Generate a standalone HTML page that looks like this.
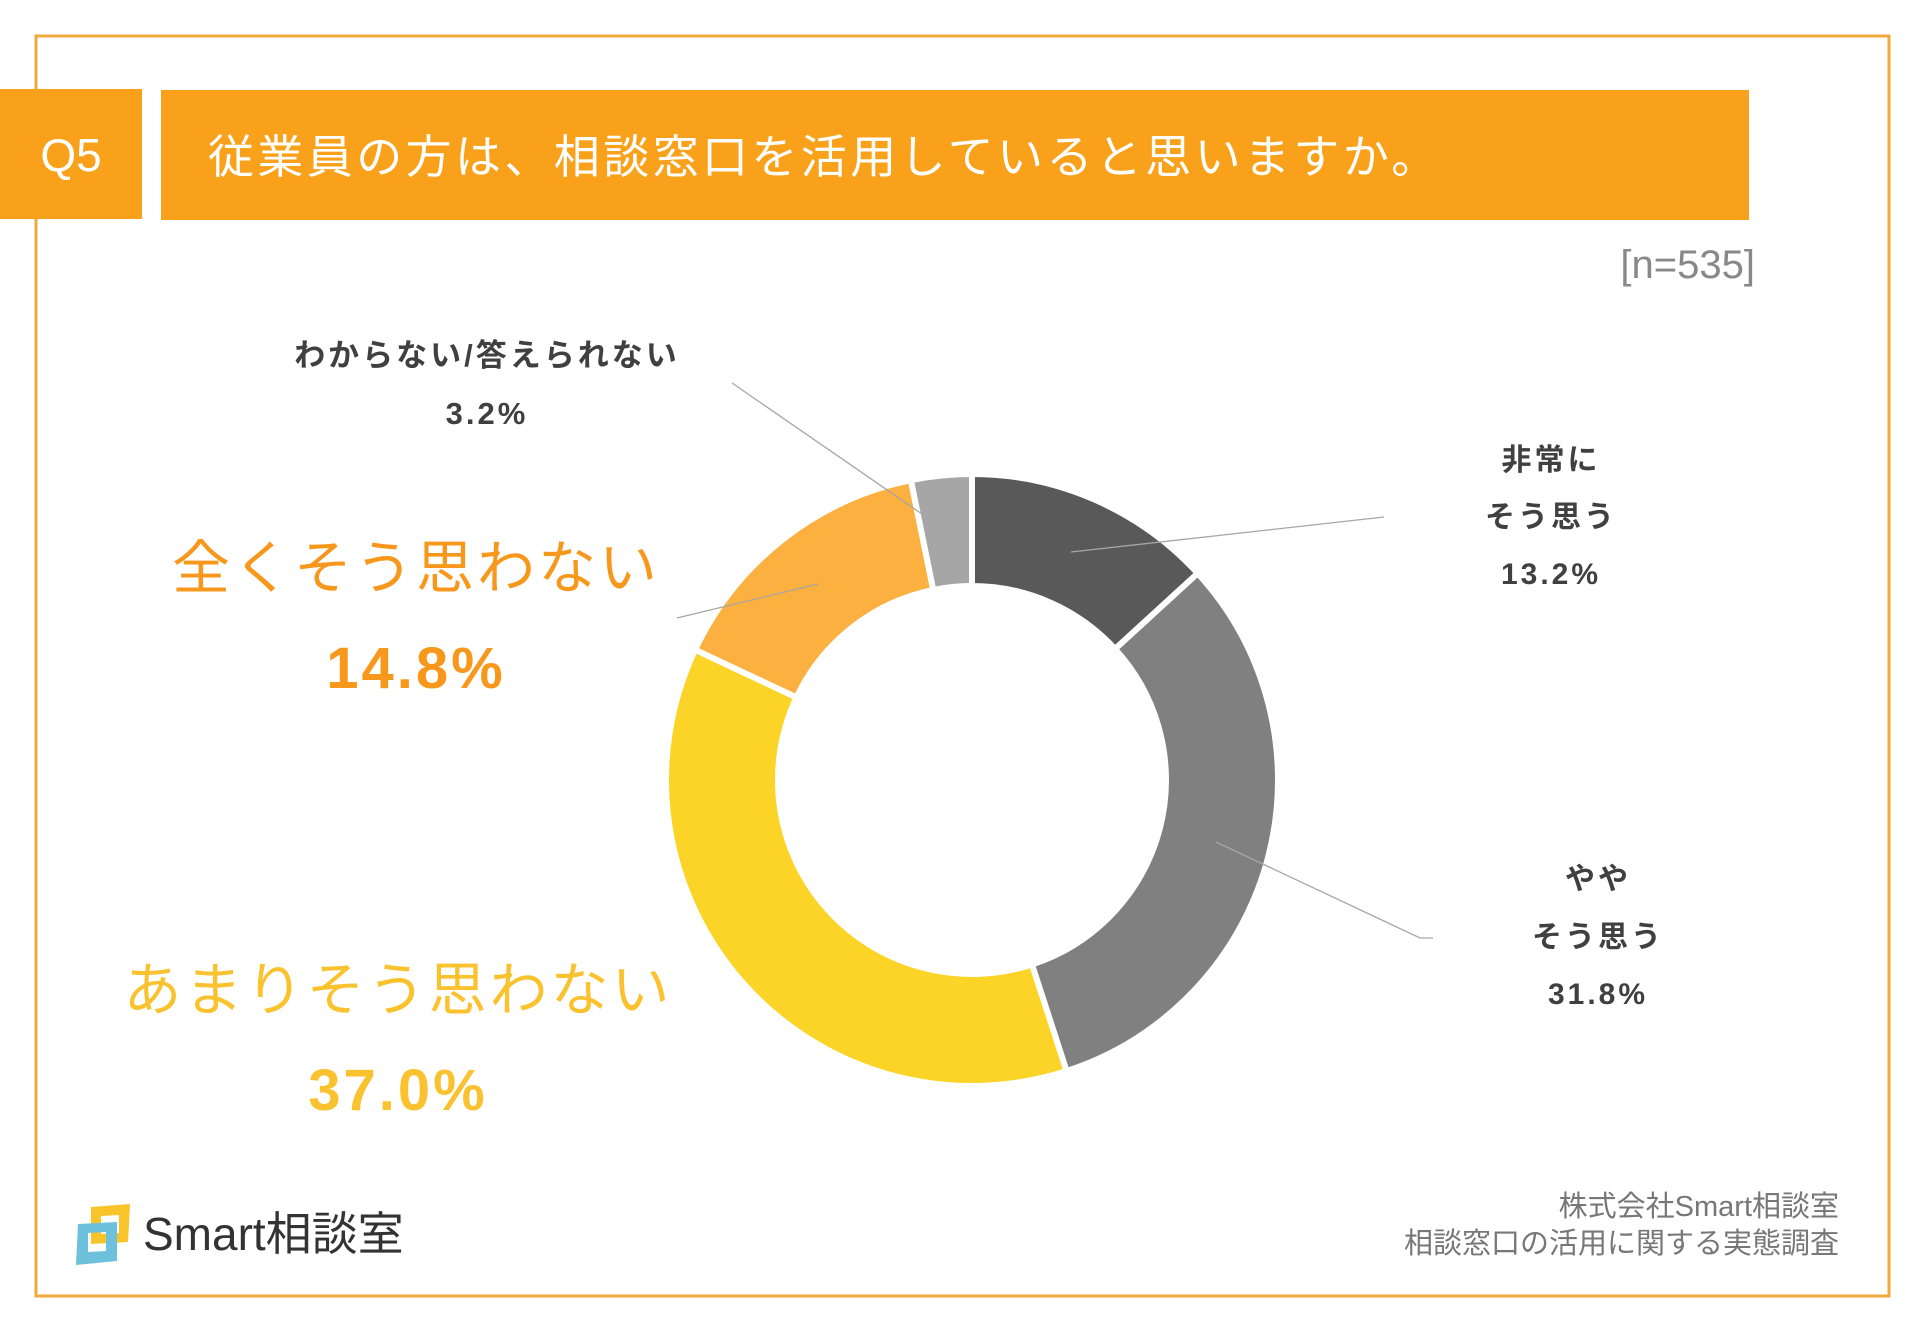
<!DOCTYPE html>
<html><head><meta charset="utf-8">
<style>
html,body{margin:0;padding:0;background:#fff;}
body{width:1920px;height:1329px;overflow:hidden;font-family:"Liberation Sans","Noto Sans CJK JP",sans-serif;}
svg text{font-family:"Liberation Sans","Noto Sans CJK JP",sans-serif;}
</style></head>
<body>
<svg id="chart" width="1920" height="1329" viewBox="0 0 1920 1329">
  <rect x="36" y="36" width="1853" height="1260" fill="none" stroke="#F2A93B" stroke-width="3"/>
  <rect x="0" y="89" width="142" height="130" fill="#F9A11B"/>
  <text x="71" y="171" text-anchor="middle" font-size="46" fill="#fff">Q5</text>
  <rect x="161" y="90" width="1588" height="130" fill="#F9A11B"/>
  <text x="208" y="173" font-size="46" letter-spacing="3.4" fill="#fff">従業員の方は、相談窓口を活用していると思いますか。</text>
  <text x="1755" y="278" text-anchor="end" font-size="40" fill="#888">[n=535]</text>
  <g id="slices"></g>
  <g id="leaders" stroke="#A6A6A6" stroke-width="1.3" fill="none">
    <polyline points="732,383 922,514"/>
    <polyline points="1384,517 1071,552"/>
    <polyline points="1216,842 1420,938 1433,938"/>
    <polyline points="677,618 818,584"/>
  </g>
  <g id="labels"></g>
  <text x="1839" y="1216" text-anchor="end" font-size="29" fill="#777">株式会社Smart相談室</text>
  <text x="1839" y="1253" text-anchor="end" font-size="29" fill="#777">相談窓口の活用に関する実態調査</text>
  <g>
    <path d="M91 1207 L130 1204 L128 1242 L91 1244 Z M101 1216 L101 1234 L119 1233 L119 1215 Z" fill="#F8C42A" fill-rule="evenodd"/>
    <path d="M78 1224 L117 1222 L117 1261 L76 1265 Z M88 1233 L88 1252 L106 1251 L106 1232 Z" fill="#6EC1DD" fill-rule="evenodd"/>
    <text x="143" y="1250" font-size="46" fill="#333">Smart相談室</text>
  </g>
</svg>
<script>
const categories = ["非常にそう思う","ややそう思う","あまりそう思わない","全くそう思わない","わからない/答えられない"];
const values = [13.2, 31.8, 37.0, 14.8, 3.2];
const valueLabels = ["13.2%","31.8%","37.0%","14.8%","3.2%"];
const colors = ["#595959","#808080","#FCD427","#FBB040","#A6A6A6"];
const cx = 972, cy = 780, R = 306, r = 194;
const NS = "http://www.w3.org/2000/svg";
const total = values.reduce((a,b)=>a+b,0);
function angle(v){ return v/total*2*Math.PI - Math.PI/2; }
function pt(a, rad){ return [cx + rad*Math.cos(a), cy + rad*Math.sin(a)]; }
const g = document.getElementById('slices');
let cum = 0;
values.forEach((v,i)=>{
  const a0 = angle(cum), a1 = angle(cum+v); cum += v;
  const large = (a1-a0) > Math.PI ? 1 : 0;
  const p0=pt(a0,R), p1=pt(a1,R), q1=pt(a1,r), q0=pt(a0,r);
  const p = document.createElementNS(NS,'path');
  p.setAttribute('d',`M${p0[0]} ${p0[1]} A${R} ${R} 0 ${large} 1 ${p1[0]} ${p1[1]} L${q1[0]} ${q1[1]} A${r} ${r} 0 ${large} 0 ${q0[0]} ${q0[1]} Z`);
  p.setAttribute('fill',colors[i]);
  p.setAttribute('stroke','#fff');
  p.setAttribute('stroke-width','6');
  
  
  g.appendChild(p);
});
const labelSpecs = [
  {lines:["非常に","そう思う",valueLabels[0]], x:1551, ys:[470,527,584], size:30, ls:3, color:"#404040", w:["bold","bold","bold"]},
  {lines:["やや","そう思う",valueLabels[1]], x:1598, ys:[889,947,1004], size:30, ls:3, color:"#404040", w:["bold","bold","bold"]},
  {lines:["あまりそう思わない",valueLabels[2]], x:398, ys:[1010,1110], size:58, ls:3, color:"#F9C22E", w:["normal","bold"]},
  {lines:["全くそう思わない",valueLabels[3]], x:416, ys:[588,688], size:58, ls:3, color:"#F7981D", w:["normal","bold"]},
  {lines:["わからない/答えられない",valueLabels[4]], x:487, ys:[366,424], size:31, ls:3, color:"#404040", w:["bold","bold"]}
];
const lg = document.getElementById('labels');
labelSpecs.forEach((s,i)=>{
  s.lines.forEach((t,j)=>{
    const el = document.createElementNS(NS,'text');
    el.setAttribute('x',s.x);
    el.setAttribute('y',s.ys[j]);
    el.setAttribute('text-anchor','middle');
    el.setAttribute('font-size', s.size);
    el.setAttribute('font-weight', s.w[j]);
    el.setAttribute('letter-spacing', s.ls);
    el.setAttribute('fill', s.color);
    el.textContent = t;
    
    
    lg.appendChild(el);
  });
});
</script>
</body></html>
